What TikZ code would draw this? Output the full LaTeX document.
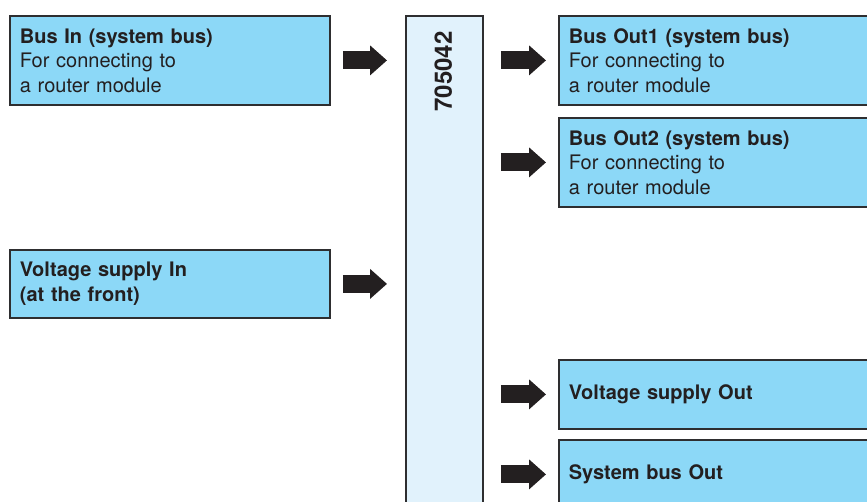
\documentclass[tikz,border=0pt]{standalone}
\usepackage{fontspec}
\setmainfont{TeX Gyre Heros}
\usetikzlibrary{arrows.meta}

\definecolor{boxblue}{HTML}{8CD8F7}
\definecolor{modblue}{HTML}{E1F2FC}
\definecolor{edgegray}{HTML}{2E2E30}
\definecolor{arrowblack}{HTML}{231F20}

\begin{document}
\begin{tikzpicture}[
        x=1pt, y=-1pt,
        box/.style={
            rectangle,
            draw=edgegray,
            line width=1.8pt,
            fill=boxblue,
            anchor=north west,
            minimum width=320pt,
            inner xsep=10pt,
            text width=300pt,
            align=left,
            text=arrowblack,
            font=\fontsize{20}{24.5}\selectfont
        },
        blockarrow/.style={
            draw=arrowblack,
            line width=18pt,
            -{Triangle[length=17pt,width=29pt]}
        }
    ]

    \useasboundingbox (0,0) rectangle (867,502);
    \clip (0,0) rectangle (867,502);

    % inputs
    \node[box, minimum height=89pt] (busin) at (9,15)
        {\textbf{Bus In (system bus)}\\For connecting to\\a router module};
    \node[box, minimum height=68pt] (volin) at (9,249)
        {\textbf{Voltage supply In}\\\textbf{(at the front)}};

    % module
    \node[rectangle, draw=edgegray, line width=1.8pt, fill=modblue,
          anchor=north west, minimum width=77pt, minimum height=520pt] (module) at (405,15) {};
    \node[rotate=90, anchor=east, font=\fontsize{24}{26}\bfseries\selectfont, text=arrowblack]
        (modlabel) at ([xshift=-1pt,yshift=-13pt]module.north) {705042};

    % outputs
    \node[box, minimum height=89pt] (busout1) at (558,15)
        {\textbf{Bus Out1 (system bus)}\\For connecting to\\a router module};
    \node[box, minimum height=89pt] (busout2) at (558,117)
        {\textbf{Bus Out2 (system bus)}\\For connecting to\\a router module};
    \node[box, minimum height=69pt] (volout) at (558,359)
        {\textbf{Voltage supply Out}};
    \node[box, minimum height=69pt] (sysout) at (558,439)
        {\textbf{System bus Out}};

    \draw[blockarrow] ([xshift=12pt]busin.east) -- ([xshift=-18pt]busin.east -| module.west);
    \draw[blockarrow] ([xshift=12pt]volin.east) -- ([xshift=-18pt]volin.east -| module.west);

    \draw[blockarrow] ([xshift=17pt]busout1.west -| module.east) -- ([xshift=-12pt]busout1.west);
    \draw[blockarrow] ([xshift=17pt]busout2.west -| module.east) -- ([xshift=-12pt]busout2.west);
    \draw[blockarrow] ([xshift=17pt]volout.west -| module.east) -- ([xshift=-12pt]volout.west);
    \draw[blockarrow] ([xshift=17pt]sysout.west -| module.east) -- ([xshift=-12pt]sysout.west);

    \end{tikzpicture}
\end{document}
